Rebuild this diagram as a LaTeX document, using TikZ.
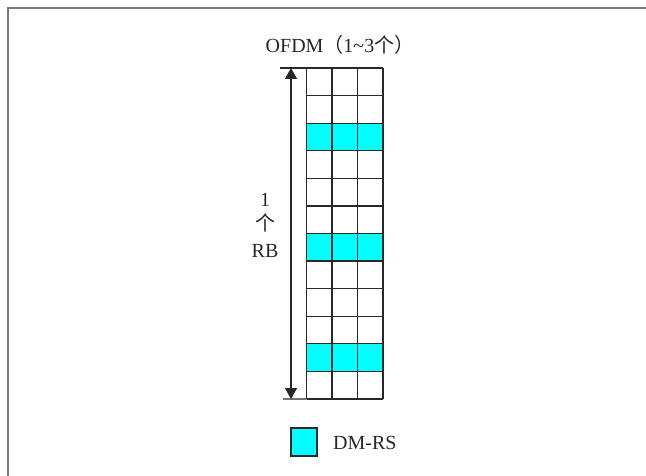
\documentclass[tikz,border=0pt]{standalone}
\usepackage{fontspec}
\setmainfont{Liberation Serif}
\newfontfamily\cjk{Noto Sans CJK SC}
\usetikzlibrary{arrows.meta}
\definecolor{rsfill}{RGB}{0,255,255}
\definecolor{gridline}{RGB}{40,40,40}
\definecolor{framegray}{RGB}{120,120,120}
\tikzset{
  frameline/.style={draw=framegray, line width=2pt},
  cell/.style={draw=none, minimum width=25.5pt,
    minimum height=27.58pt, inner sep=0pt, outer sep=0pt, anchor=north west},
  rscell/.style={cell, fill=rsfill},
  gridstroke/.style={draw=gridline, line width=1.3pt},
  dimline/.style={draw=gridline, line width=1.3pt},
  dimarrow/.style={dimline, {Triangle[width=12pt,length=11pt]}-{Triangle[width=12pt,length=11pt]}},
  lbl/.style={inner sep=0pt, font=\fontsize{20}{24}\selectfont, text=black!85},
}
\begin{document}
\begin{tikzpicture}[x=1pt,y=-1pt]
\useasboundingbox (0,0) rectangle (646,476);
% page frame (top and left edges)
\draw[frameline] (7.5,476) -- (7.5,8.5) -- (646,8.5);

% resource grid: 12 subcarriers x 3 OFDM symbols
\foreach \r in {0,...,11}{
  \foreach \c in {0,1,2}{
    \pgfmathsetmacro{\xx}{306.5+25.5*\c}
    \pgfmathsetmacro{\yy}{68+27.58*\r}
    \ifnum\r=2 \node[rscell] (g-\r-\c) at (\xx,\yy) {};
    \else\ifnum\r=6 \node[rscell] (g-\r-\c) at (\xx,\yy) {};
    \else\ifnum\r=10 \node[rscell] (g-\r-\c) at (\xx,\yy) {};
    \else \node[cell] (g-\r-\c) at (\xx,\yy) {};
    \fi\fi\fi
  }
}
% grid lines
\foreach \r in {0,...,11}{
  \draw[gridstroke] (g-\r-0.north west) -- (g-\r-2.north east);
}
\draw[gridstroke] (g-11-0.south west) -- (g-11-2.south east);
\foreach \c in {0,1,2}{
  \draw[gridstroke] (g-0-\c.north west) -- (g-11-\c.south west);
}
\draw[gridstroke] (g-0-2.north east) -- (g-11-2.south east);

% extent of one RB
\coordinate (ttick) at (280,68);
\coordinate (btick) at (283,399);
\draw[dimline] (ttick) -- (g-0-0.north west);
\draw[dimline] (btick) -- (g-11-0.south west);
\coordinate (atop) at (291,68);
\coordinate (abot) at (291,399);
\draw[dimarrow] (atop) -- (abot);

% labels
\node[lbl] (title) at (340,45) {OFDM{\cjk （}1\char`\~3{\cjk 个）}};
\node[lbl] (rb1) at (265,200) {1};
\node[lbl] (rb2) at (265,223) {\cjk 个};
\node[lbl] (rb3) at (265,251) {RB};

% legend
\node[rscell, draw=gridline, line width=1.3pt, minimum width=26pt, minimum height=28pt, anchor=center] (leg) at (304,442) {};
\node[lbl, anchor=west] (legtxt) at (333,443) {DM-RS};
\end{tikzpicture}
\end{document}
